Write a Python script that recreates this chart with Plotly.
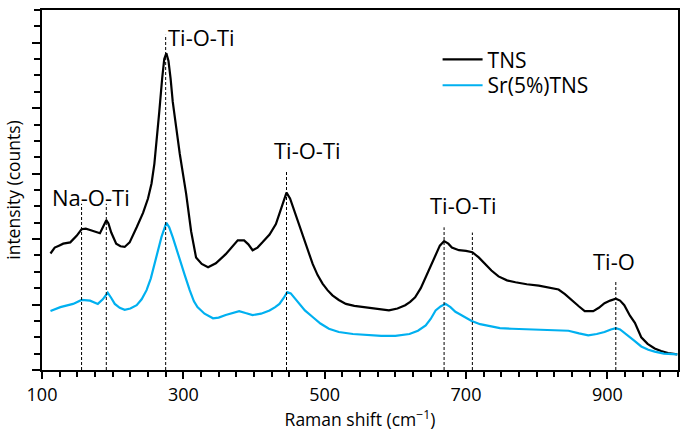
import plotly.graph_objects as go

# ---------------- data ----------------
tns_x = [112, 118, 124, 130, 140, 149, 156, 162, 168, 175, 182, 187, 191, 194, 198, 205, 211, 217, 224, 234,
         243, 250, 255, 259, 262, 266, 270, 273, 276, 279, 282, 285, 290, 295, 304, 311, 318, 326, 335, 346,
         360, 370, 377, 386, 392, 398, 405, 412, 422, 431, 438, 446, 451, 457, 463, 469, 476, 483, 490, 497,
         504, 511, 520, 530, 542, 554, 570, 591, 603, 614, 621, 628, 636, 643, 650, 657, 663, 669, 675, 680,
         690, 700, 709, 718, 727, 736, 746, 758, 770, 786, 803, 817, 831, 840, 850, 860, 868, 880, 888, 896,
         904, 912, 918, 924, 932, 939, 948, 957, 967, 976, 986, 999]
tns_y = [1.78, 1.87, 1.90, 1.93, 1.95, 2.05, 2.15, 2.16, 2.14, 2.12, 2.09, 2.20, 2.29, 2.24, 2.10, 1.93, 1.89, 1.88, 1.95, 2.18,
         2.40, 2.62, 2.85, 3.15, 3.45, 3.95, 4.45, 4.75, 4.84, 4.72, 4.45, 4.10, 3.70, 3.30, 2.69, 2.12, 1.72, 1.62, 1.57, 1.63,
         1.77, 1.90, 1.98, 1.98, 1.92, 1.83, 1.87, 1.95, 2.07, 2.23, 2.45, 2.71, 2.62, 2.43, 2.22, 2.03, 1.82, 1.62, 1.45, 1.32,
         1.22, 1.14, 1.07, 1.01, 0.98, 0.96, 0.94, 0.91, 0.94, 0.99, 1.04, 1.11, 1.25, 1.42, 1.60, 1.77, 1.90, 1.97, 1.93, 1.87,
         1.83, 1.82, 1.80, 1.72, 1.62, 1.52, 1.43, 1.37, 1.34, 1.31, 1.29, 1.26, 1.23, 1.16, 1.06, 0.97, 0.90, 0.90, 0.95, 1.02,
         1.06, 1.09, 1.06, 0.99, 0.83, 0.72, 0.50, 0.40, 0.33, 0.29, 0.26, 0.24]

sr_x = [112, 126, 144, 156, 168, 179, 186, 193, 198, 203, 210, 217, 225, 234, 241, 248, 254, 259, 264, 269,
        276, 280, 285, 290, 295, 302, 309, 315, 320, 330, 342, 350, 360, 370, 379, 388, 398, 410, 422, 430,
        436, 442, 447, 452, 458, 464, 472, 483, 494, 506, 520, 540, 560, 580, 600, 620, 632, 643, 650, 657,
        664, 671, 678, 685, 690, 700, 708, 720, 732, 748, 765, 785, 803, 825, 845, 860, 873, 885, 896, 905,
        912, 918, 929, 938, 948, 958, 967, 980, 999]
sr_y = [0.90, 0.96, 1.01, 1.07, 1.06, 1.01, 1.08, 1.18, 1.10, 1.01, 0.95, 0.92, 0.94, 0.99, 1.08, 1.22, 1.40, 1.62, 1.82, 2.03,
        2.25, 2.18, 2.03, 1.85, 1.67, 1.45, 1.22, 1.05, 0.96, 0.86, 0.79, 0.80, 0.84, 0.87, 0.90, 0.87, 0.84, 0.86, 0.91, 0.96,
        1.01, 1.10, 1.19, 1.17, 1.09, 1.01, 0.91, 0.81, 0.71, 0.63, 0.58, 0.55, 0.53, 0.52, 0.52, 0.55, 0.60, 0.68, 0.78, 0.91,
        0.97, 1.01, 0.96, 0.89, 0.86, 0.80, 0.75, 0.70, 0.67, 0.64, 0.63, 0.62, 0.62, 0.61, 0.60, 0.56, 0.53, 0.55, 0.58, 0.62,
        0.64, 0.62, 0.53, 0.45, 0.36, 0.31, 0.28, 0.25, 0.24]

# peak marker lines (position, top)
peak_pos = [156, 191, 275, 446, 669, 709, 912]
peak_top = [2.54, 2.54, 5.12, 3.03, 2.18, 2.10, 1.37]

# peak labels
label_text = ["Na-O-Ti", "Ti-O-Ti", "Ti-O-Ti", "Ti-O-Ti", "Ti-O"]
label_x = [170, 326, 476, 697, 909]
label_y = [2.64, 5.08, 3.36, 2.52, 1.66]

x_tickvals = [100, 300, 500, 700, 900]
y_tickvals = [0, 1, 2, 3, 4, 5]

FONT = "Open Sans"

fig = go.Figure()
fig.add_trace(go.Scatter(x=tns_x, y=tns_y, mode="lines", name="TNS", legend="legend",
                         line=dict(color="black", width=2.2)))
fig.add_trace(go.Scatter(x=sr_x, y=sr_y, mode="lines", name="Sr(5%)TNS", legend="legend2",
                         line=dict(color="#00B0F0", width=2.2)))

lx, ly = [], []
for p, t in zip(peak_pos, peak_top):
    lx += [p, p, None]
    ly += [0, t, None]
fig.add_trace(go.Scatter(x=lx, y=ly, mode="lines", showlegend=False, hoverinfo="skip",
                         line=dict(color="black", width=1, dash="3px,2px")))

for t, x, y in zip(label_text, label_x, label_y):
    fig.add_annotation(x=x, y=y, text=t, showarrow=False, xref="x", yref="y",
                       font=dict(family=FONT, size=22, color="black"))

leg_common = dict(x=0.622, xanchor="left", yanchor="middle", itemwidth=40,
                  font=dict(family=FONT, size=21), bgcolor="rgba(0,0,0,0)")

fig.update_layout(
    width=688, height=433,
    margin=dict(l=42, r=8, t=8, b=63),
    paper_bgcolor="white", plot_bgcolor="white",
    font=dict(family=FONT, size=17, color="black"),
    showlegend=True,
    legend=dict(y=0.862, **leg_common),
    legend2=dict(y=0.790, **leg_common),
    xaxis=dict(range=[100, 1000], tickvals=x_tickvals, ticks="outside", ticklen=7, tickwidth=2,
               tickcolor="black", showline=True, linewidth=2, linecolor="black", mirror=True,
               showgrid=False, zeroline=False,
               tickfont=dict(family=FONT, size=18),
               minor=dict(dtick=25, tick0=100, ticks="outside", ticklen=5, tickwidth=1.5,
                          tickcolor="black", showgrid=False),
               title=dict(text="Raman shift (cm<sup>−1</sup>)", standoff=0,
                          font=dict(family=FONT, size=17.5))),
    yaxis=dict(range=[0, 5.5], tickvals=y_tickvals, ticks="outside", ticklen=8, tickwidth=2,
               tickcolor="black", showline=True, linewidth=2, linecolor="black", mirror=True,
               showgrid=False, zeroline=False, showticklabels=False,
               minor=dict(dtick=0.25, tick0=0, ticks="outside", ticklen=6, tickwidth=1.5,
                          tickcolor="black", showgrid=False),
               title=dict(text="intensity (counts)", standoff=7,
                          font=dict(family=FONT, size=17.5))),
    xaxis2=dict(range=[100, 1000], overlaying="x", anchor="y", side="bottom",
                tickvals=x_tickvals, ticks="inside", ticklen=7, tickwidth=2, tickcolor="black",
                showticklabels=False, showline=False, showgrid=False, zeroline=False),
    yaxis2=dict(range=[0, 5.5], overlaying="y", anchor="x", side="left",
                tickvals=y_tickvals, ticks="inside", ticklen=7, tickwidth=2, tickcolor="black",
                showticklabels=False, showline=False, showgrid=False, zeroline=False),
)

fig.write_html("out.html")
